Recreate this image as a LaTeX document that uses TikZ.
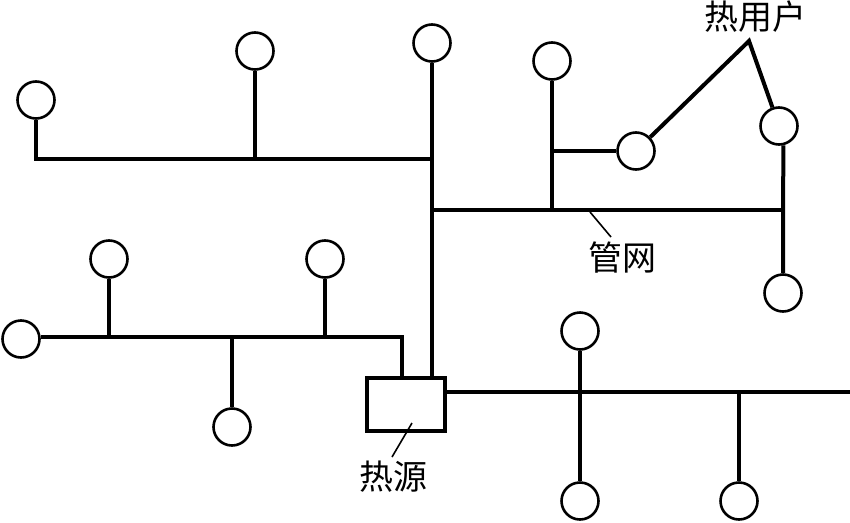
\documentclass[tikz,border=0pt]{standalone}
\usepackage{fontspec}
\newfontfamily\cjk{Noto Sans CJK SC}
\usetikzlibrary{positioning,calc}
\definecolor{ink}{HTML}{000000}
\tikzset{user/.style={draw=ink,fill=white,circle,line width=2.6pt,inner sep=0pt,minimum size=37pt},
  source/.style={draw=ink,fill=white,line width=3.4pt,inner sep=0pt,minimum width=78pt,minimum height=53pt},
  pipe/.style={draw=ink,line width=4pt},
  leader/.style={draw=ink,line width=1.6pt},
  tag/.style={font=\cjk\fontsize{34}{34}\selectfont,inner sep=0pt,text=ink}}
\begin{document}
\begin{tikzpicture}[x=1pt,y=-1pt]
  \useasboundingbox (0,0) rectangle (850,522);
  % junctions of the network
  \foreach \name/\x/\y in {ja/36/158.5,jb/255/158.5,jc/432/158.5,jd/432/210,je/552/210,jf/552/151,jg/783/210,
    jh/109/337,ji/232/337,jj/325/337,jk/402/337,jl/580/392,jm/739/392,jn/850/392,jo/749/41} {
    \coordinate (\name) at (\x,\y);
  }
  % users and source
  \foreach \name/\x/\y in {ua/36/100,ub/255/51,uc/432/43,ud/552/61,ue/636/151,uf/779/126,ug/783/293,
    uh/109/259,ui/325/259,uj/21/339,uk/232/427,ul/580/331,um/580/501,un/739/501} {
    \node[user] (\name) at (\x,\y) {};
  }
  \node[source] (src) at (406,404.5) {};
  % upper network
  \draw[pipe] (ua) -- (ja) -- (jc);
  \draw[pipe] (ub) -- (jb);
  \draw[pipe] (uc) -- (src.north -| uc);
  \draw[pipe] (jd) -- (jg);
  \draw[pipe] (ud) -- (je);
  \draw[pipe] (jf) -- (ue);
  \draw[pipe] (uf.-77) -- (jg) -- (ug);
  % left network
  \draw[pipe] (uj.east |- jk) -- (jk) -- (src.north -| jk);
  \draw[pipe] (uh) -- (jh);
  \draw[pipe] (ui) -- (jj);
  \draw[pipe] (ji) -- (uk);
  % right network
  \draw[pipe] (src.east |- jn) -- (jn);
  \draw[pipe] (ul) -- (um);
  \draw[pipe] (jm) -- (un);
  % labels
  \node[tag] (lbuser) at (755,17) {\cjk 热用户};
  \node[tag] (lbnet) at (622,258) {\cjk 管网};
  \node[tag] (lbsrc) at (393,477) {\cjk 热源};
  \draw[pipe,line join=miter] (ue) -- (jo) -- (uf);
  \coordinate (na) at (590,212);
  \coordinate (nb) at (611,237);
  \coordinate (nc) at (412,423);
  \coordinate (nd) at (392,457);
  \draw[leader] (na) -- (nb);
  \draw[leader] (nc) -- (nd);
\end{tikzpicture}
\end{document}
